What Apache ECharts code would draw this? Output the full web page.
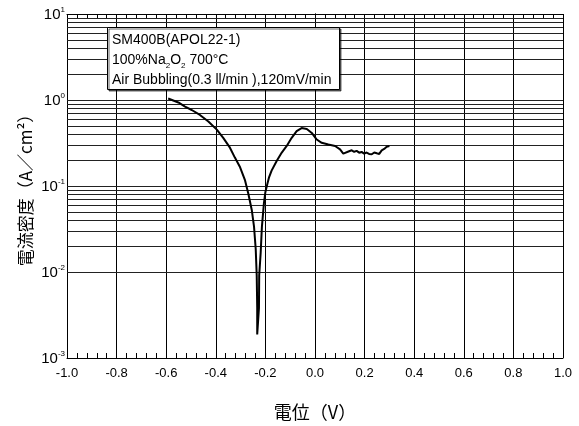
<!DOCTYPE html>
<html>
<head>
<meta charset="utf-8">
<script src="https://cdn.jsdelivr.net/npm/echarts@6/dist/echarts.min.js"></script>
<style>
  html, body { margin: 0; padding: 0; background: #fff; }
  #chart { width: 579px; height: 426px; }
</style>
</head>
<body>
<div id="chart"></div>
<script>
// Potentiodynamic polarization curve (potential in V, current density in A/cm2)
const potential = [
  -0.592, -0.551, -0.524, -0.497, -0.464, -0.430, -0.396, -0.370, -0.343, -0.323,
  -0.302, -0.282, -0.269, -0.255, -0.246, -0.239, -0.235, -0.233, -0.233,
  -0.226, -0.225, -0.219, -0.214, -0.206, -0.200, -0.192, -0.185, -0.175, -0.154,
  -0.134, -0.114, -0.094, -0.074, -0.054, -0.033, -0.013, 0.007, 0.027, 0.054,
  0.081, 0.101, 0.114, 0.121, 0.135, 0.148, 0.158, 0.168, 0.178, 0.188, 0.198,
  0.208, 0.218, 0.229, 0.239, 0.249, 0.259, 0.269, 0.279, 0.289, 0.300
];
const currentDensity = [
  1.04, 0.936, 0.836, 0.765, 0.670, 0.563, 0.452, 0.363, 0.279, 0.214,
  0.165, 0.116, 0.0817, 0.0527, 0.0340, 0.0184, 0.00912, 0.00383, 0.00188,
  0.00383, 0.00912, 0.0168, 0.0340, 0.0628, 0.0853, 0.106, 0.127, 0.151, 0.197,
  0.245, 0.292, 0.363, 0.434, 0.472, 0.460, 0.414, 0.347, 0.318, 0.304,
  0.292, 0.267, 0.238, 0.245, 0.252, 0.260, 0.250, 0.256, 0.244, 0.249, 0.238,
  0.245, 0.236, 0.234, 0.245, 0.240, 0.236, 0.260, 0.270, 0.286, 0.292
];
// Horizontal reference lines at 1..9 x 10^n
const gridLevels = [
  0.002, 0.003, 0.004, 0.005, 0.006, 0.007, 0.008, 0.009,
  0.01, 0.02, 0.03, 0.04, 0.05, 0.06, 0.07, 0.08, 0.09,
  0.1, 0.2, 0.3, 0.4, 0.5, 0.6, 0.7, 0.8, 0.9,
  1, 2, 3, 4, 5, 6, 7, 8, 9
];
const xTicks = { min: -1.0, max: 1.0, step: 0.2 };
const yRange = { min: 0.001, max: 10 };
const noteLines = [
  '{n|SM400B(APOL22-1)}',
  '{n|100%Na}{sub|2}{n|O}{sub|2}{n| 700°C}',
  '{n|Air Bubbling(0.3 ll/min ),120mV/min}'
];
const xName = '電位（V）';
const yName = '電流密度（A／cm²）';

const chart = echarts.init(document.getElementById('chart'));
const font = '"Liberation Sans", Arial, sans-serif';
const cjk = '"Noto Sans CJK JP", sans-serif';

const tickCommon = {
  axisLine: { show: true, lineStyle: { color: '#000', width: 1 } },
  axisTick: { show: true, inside: true, length: 6, lineStyle: { color: '#000' } },
  minorTick: { show: true, splitNumber: 5, length: 5, lineStyle: { color: '#000' } }
};

chart.setOption({
  animation: false,
  backgroundColor: '#fff',
  grid: { left: 67, right: 16, top: 14, bottom: 62 },
  xAxis: [
    Object.assign({
      type: 'value', min: xTicks.min, max: xTicks.max, interval: xTicks.step,
      position: 'bottom',
      axisLabel: {
        color: '#000', fontFamily: font, fontSize: 13, margin: 9,
        formatter: v => v.toFixed(1)
      },
      splitLine: { show: true, lineStyle: { color: '#000', width: 1 } },
      name: xName, nameLocation: 'middle', nameGap: 45,
      nameTextStyle: { color: '#000', fontFamily: cjk, fontSize: 18 }
    }, tickCommon),
    Object.assign({
      type: 'value', min: xTicks.min, max: xTicks.max, interval: xTicks.step,
      position: 'top',
      axisLabel: { show: false },
      splitLine: { show: false }
    }, tickCommon)
  ],
  yAxis: [
    {
      type: 'log', logBase: 10, min: yRange.min, max: yRange.max,
      position: 'left',
      axisLine: { show: true, lineStyle: { color: '#000', width: 1 } },
      axisTick: { show: false },
      splitLine: { show: false },
      axisLabel: {
        margin: 2,
        formatter: v => '{b|10}{s|' + Math.round(Math.log10(v)) + '}',
        rich: {
          b: { fontFamily: font, fontSize: 15, color: '#000', lineHeight: 16, verticalAlign: 'bottom' },
          s: { fontFamily: font, fontSize: 8, color: '#000', lineHeight: 16, verticalAlign: 'top' }
        }
      },
      name: yName, nameLocation: 'middle', nameGap: 33, nameRotate: 90,
      nameMoveOverlap: false,
      nameTextStyle: { color: '#000', fontFamily: cjk, fontSize: 17 }
    },
    {
      type: 'log', logBase: 10, min: yRange.min, max: yRange.max,
      position: 'right',
      axisLine: { show: true, lineStyle: { color: '#000', width: 1 } },
      axisTick: { show: false },
      axisLabel: { show: false },
      splitLine: { show: false }
    }
  ],
  series: [
    {
      type: 'line',
      xAxisIndex: 0, yAxisIndex: 0,
      data: potential.map((v, i) => [v, currentDensity[i]]),
      showSymbol: false, symbol: 'none',
      lineStyle: { color: '#000', width: 2 },
      z: 5,
      markLine: {
        silent: true, symbol: 'none', animation: false,
        label: { show: false },
        lineStyle: { color: '#222', width: 1, type: 'solid' },
        data: gridLevels.map(g => ({ yAxis: g }))
      }
    }
  ],
  graphic: [
    {
      type: 'rect', left: 107, top: 27, z: 100, zlevel: 1,
      shape: { x: 0, y: 0, width: 232, height: 62 },
      style: {
        fill: '#fff', stroke: '#000', lineWidth: 1,
        shadowColor: 'rgba(0,0,0,0.6)', shadowOffsetX: 1.5, shadowOffsetY: 1.5, shadowBlur: 0
      }
    },
    {
      type: 'text', left: 112, top: 33, z: 101, zlevel: 1,
      style: {
        text: noteLines.join('\n'),
        fill: '#000',
        rich: {
          n: { fontFamily: font, fontSize: 14, lineHeight: 20, fill: '#000' },
          sub: { fontFamily: font, fontSize: 8, lineHeight: 10, verticalAlign: 'bottom', fill: '#000' }
        }
      }
    }
  ]
});
</script>
</body>
</html>
